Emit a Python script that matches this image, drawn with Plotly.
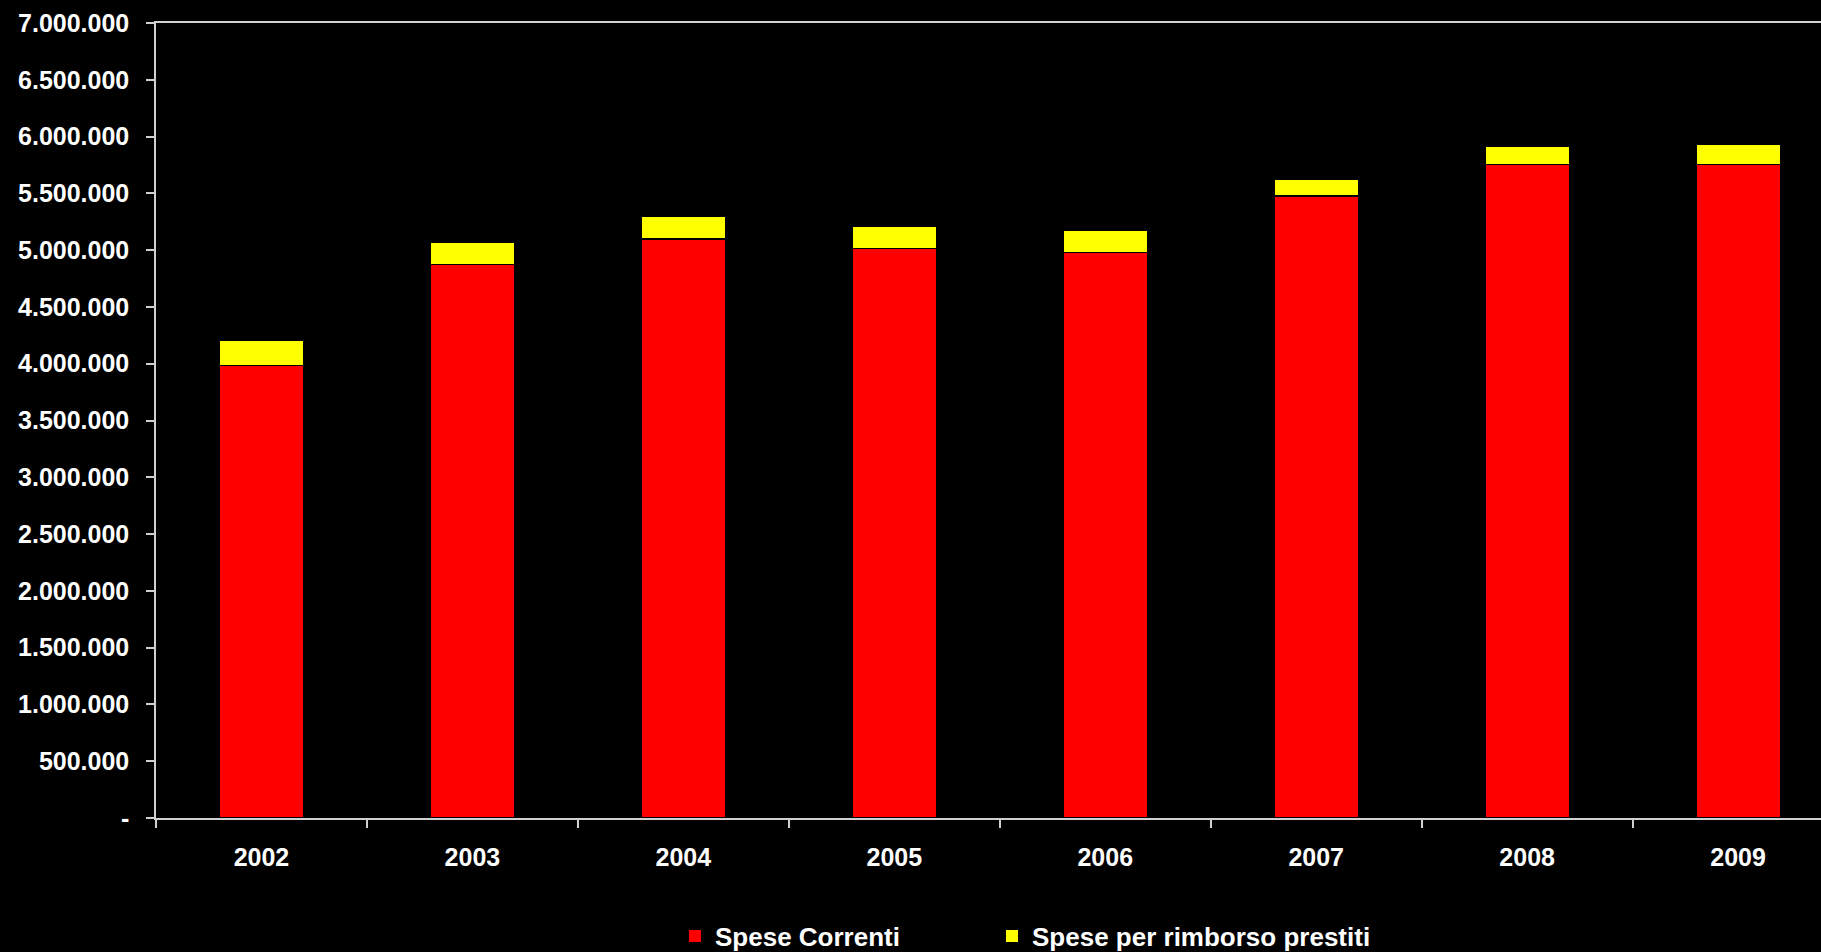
import plotly.graph_objects as go

years = ["2002", "2003", "2004", "2005", "2006", "2007", "2008", "2009"]
spese_correnti = [3983000, 4874000, 5096000, 5013000, 4978000, 5477000, 5756000, 5756000]
spese_rimborso = [220000, 195000, 202000, 197000, 197000, 147000, 161000, 179000]

ytick_vals = [0, 500000, 1000000, 1500000, 2000000, 2500000, 3000000, 3500000,
              4000000, 4500000, 5000000, 5500000, 6000000, 6500000, 7000000]
ytick_text = ["-", "500.000", "1.000.000", "1.500.000", "2.000.000", "2.500.000",
              "3.000.000", "3.500.000", "4.000.000", "4.500.000", "5.000.000",
              "5.500.000", "6.000.000", "6.500.000", "7.000.000"]

RED = "#FF0000"
YELLOW = "#FFFF00"
FONT = "Liberation Sans"

fig = go.Figure()
fig.add_trace(go.Bar(x=years, y=spese_correnti, name="Spese Correnti",
                     marker=dict(color=RED, line=dict(color="black", width=1.5)),
                     width=0.4, showlegend=False))
fig.add_trace(go.Bar(x=years, y=spese_rimborso, name="Spese per rimborso prestiti",
                     marker=dict(color=YELLOW, line=dict(color="black", width=1.5)),
                     width=0.4, showlegend=False))
# legend entries with small square keys
fig.add_trace(go.Scatter(x=[None], y=[None], mode="markers", name="Spese Correnti",
                         marker=dict(symbol="square", size=12, color=RED), legend="legend"))
fig.add_trace(go.Scatter(x=[None], y=[None], mode="markers", name="Spese per rimborso prestiti",
                         marker=dict(symbol="square", size=12, color=YELLOW), legend="legend2"))

legend_common = dict(orientation="h", xref="container", yref="container",
                     y=1 - 936 / 952, xanchor="left", yanchor="middle",
                     font=dict(family=FONT, size=26, color="white", weight="bold"),
                     bgcolor="rgba(0,0,0,0)")

fig.update_layout(
    width=1821, height=952,
    barmode="stack",
    paper_bgcolor="black", plot_bgcolor="black",
    margin=dict(l=156, r=0, t=23, b=134),
    font=dict(family=FONT, color="white", size=25, weight="bold"),
    showlegend=True,
    legend=dict(x=675 / 1821, **legend_common),
    legend2=dict(x=992 / 1821, **legend_common),
    xaxis=dict(type="category", range=[-0.5, 7.393], showline=True, mirror=True,
               linecolor="#d0d0d0", linewidth=1.5, ticks="outside", tickson="boundaries",
               ticklen=8, tickcolor="#d0d0d0", tickwidth=1.5, showgrid=False,
               tickfont=dict(family=FONT, size=25, color="white", weight="bold"),
               ticklabelstandoff=16),
    yaxis=dict(range=[0, 7000000], tickvals=ytick_vals, ticktext=ytick_text,
               showline=True, linecolor="#d0d0d0", linewidth=1.5, ticks="outside",
               ticklen=8, tickcolor="#d0d0d0", tickwidth=1.5, showgrid=False,
               zeroline=False,
               tickfont=dict(family=FONT, size=25, color="white", weight="bold"),
               ticklabelstandoff=12),
)

fig.write_html("out.html",
               config={"displayModeBar": False},
               post_script="document.body.style.margin='0';"
                           "document.body.style.background='black';"
                           "document.documentElement.style.background='black';")
